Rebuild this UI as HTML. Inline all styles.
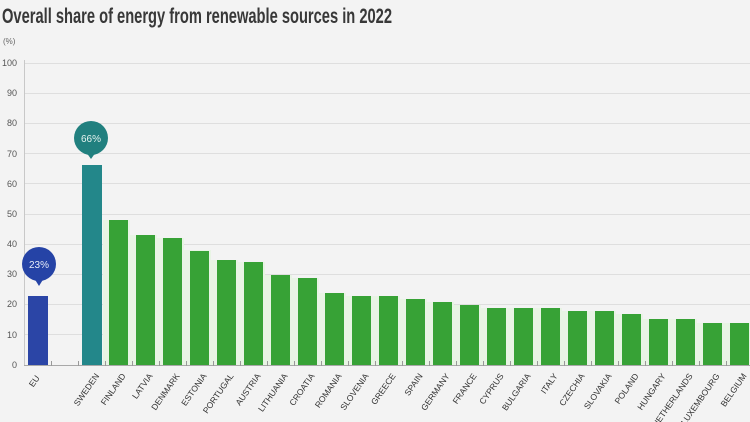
<!DOCTYPE html>
<html>
<head>
<meta charset="utf-8">
<style>
  html,body{margin:0;padding:0;background:#f3f3f3;}
  svg{display:block;}
  text{font-family:"Liberation Sans",sans-serif;}
</style>
</head>
<body>
<svg width="750" height="422" viewBox="0 0 750 422" xmlns="http://www.w3.org/2000/svg">
  <rect x="0" y="0" width="750" height="422" fill="#f3f3f3"/>
  <!-- Title -->
  <text x="2" y="23" font-size="21" font-weight="bold" fill="#383838" textLength="390" lengthAdjust="spacingAndGlyphs">Overall share of energy from renewable sources in 2022</text>
  <text x="3" y="44" font-size="8" fill="#666">(%)</text>

  <!-- gridlines -->
  <g stroke="#dedede" stroke-width="1">
    <line x1="24" y1="63.5" x2="750" y2="63.5"/>
    <line x1="24" y1="93.5" x2="750" y2="93.5"/>
    <line x1="24" y1="123.5" x2="750" y2="123.5"/>
    <line x1="24" y1="153.5" x2="750" y2="153.5"/>
    <line x1="24" y1="183.5" x2="750" y2="183.5"/>
    <line x1="24" y1="214.5" x2="750" y2="214.5"/>
    <line x1="24" y1="244.5" x2="750" y2="244.5"/>
    <line x1="24" y1="274.5" x2="750" y2="274.5"/>
    <line x1="24" y1="304.5" x2="750" y2="304.5"/>
    <line x1="24" y1="334.5" x2="750" y2="334.5"/>
  </g>
  <line x1="24.5" y1="60" x2="24.5" y2="366" stroke="#c8c8c8" stroke-width="1"/>

  <!-- y labels -->
  <g font-size="9" fill="#555" text-anchor="end">
    <text x="17" y="66">100</text>
    <text x="17" y="96">90</text>
    <text x="17" y="126">80</text>
    <text x="17" y="157">70</text>
    <text x="17" y="187">60</text>
    <text x="17" y="217">50</text>
    <text x="17" y="247">40</text>
    <text x="17" y="277">30</text>
    <text x="17" y="307">20</text>
    <text x="17" y="338">10</text>
    <text x="17" y="368">0</text>
  </g>

  <!-- pale tint between green bars -->
  <g fill="#e8f4e4">
    <rect x="103" y="220" width="27" height="145"/>
    <rect x="130" y="235" width="27" height="130"/>
    <rect x="157" y="238" width="27" height="127"/>
    <rect x="184" y="250" width="27" height="115"/>
    <rect x="211" y="260" width="27" height="105"/>
    <rect x="238" y="262" width="27" height="103"/>
    <rect x="265" y="275" width="27" height="90"/>
    <rect x="292" y="278" width="27" height="87"/>
    <rect x="319" y="293" width="27" height="72"/>
    <rect x="346" y="296" width="27" height="69"/>
    <rect x="373" y="296" width="27" height="69"/>
    <rect x="400" y="299" width="27" height="66"/>
    <rect x="427" y="302" width="27" height="63"/>
    <rect x="454" y="305" width="27" height="60"/>
    <rect x="481" y="308" width="27" height="57"/>
    <rect x="508" y="308" width="27" height="57"/>
    <rect x="535" y="308" width="27" height="57"/>
    <rect x="562" y="311" width="27" height="54"/>
    <rect x="589" y="311" width="27" height="54"/>
    <rect x="616" y="314" width="27" height="51"/>
    <rect x="643" y="319" width="27" height="46"/>
    <rect x="670" y="319" width="27" height="46"/>
    <rect x="697" y="323" width="27" height="42"/>
    <rect x="724" y="323" width="26" height="42"/>
  </g>

  <!-- bars -->
  <rect x="28" y="296" width="20" height="69" fill="#2b45a6"/>
  <rect x="82" y="165" width="20" height="200" fill="#23878a"/>
  <g fill="#37a236">
    <rect x="109" y="220" width="19" height="145"/>
    <rect x="136" y="235" width="19" height="130"/>
    <rect x="163" y="238" width="19" height="127"/>
    <rect x="190" y="251" width="19" height="114"/>
    <rect x="217" y="260" width="19" height="105"/>
    <rect x="244" y="262" width="19" height="103"/>
    <rect x="271" y="275" width="19" height="90"/>
    <rect x="298" y="278" width="19" height="87"/>
    <rect x="325" y="293" width="19" height="72"/>
    <rect x="352" y="296" width="19" height="69"/>
    <rect x="379" y="296" width="19" height="69"/>
    <rect x="406" y="299" width="19" height="66"/>
    <rect x="433" y="302" width="19" height="63"/>
    <rect x="460" y="305" width="19" height="60"/>
    <rect x="487" y="308" width="19" height="57"/>
    <rect x="514" y="308" width="19" height="57"/>
    <rect x="541" y="308" width="19" height="57"/>
    <rect x="568" y="311" width="19" height="54"/>
    <rect x="595" y="311" width="19" height="54"/>
    <rect x="622" y="314" width="19" height="51"/>
    <rect x="649" y="319" width="19" height="46"/>
    <rect x="676" y="319" width="19" height="46"/>
    <rect x="703" y="323" width="19" height="42"/>
    <rect x="730" y="323" width="19" height="42"/>
  </g>

  <!-- baseline and ticks -->
  <line x1="24" y1="365.5" x2="750" y2="365.5" stroke="#a8a8a8" stroke-width="1"/>
  <g stroke="#999" stroke-width="1">
    <line x1="51.5" y1="361" x2="51.5" y2="366"/>
    <line x1="78.5" y1="361" x2="78.5" y2="366"/>
    <line x1="105.5" y1="361" x2="105.5" y2="366"/>
    <line x1="132.5" y1="361" x2="132.5" y2="366"/>
    <line x1="159.5" y1="361" x2="159.5" y2="366"/>
    <line x1="186.5" y1="361" x2="186.5" y2="366"/>
    <line x1="213.5" y1="361" x2="213.5" y2="366"/>
    <line x1="240.5" y1="361" x2="240.5" y2="366"/>
    <line x1="267.5" y1="361" x2="267.5" y2="366"/>
    <line x1="294.5" y1="361" x2="294.5" y2="366"/>
    <line x1="321.5" y1="361" x2="321.5" y2="366"/>
    <line x1="348.5" y1="361" x2="348.5" y2="366"/>
    <line x1="375.5" y1="361" x2="375.5" y2="366"/>
    <line x1="402.5" y1="361" x2="402.5" y2="366"/>
    <line x1="429.5" y1="361" x2="429.5" y2="366"/>
    <line x1="456.5" y1="361" x2="456.5" y2="366"/>
    <line x1="483.5" y1="361" x2="483.5" y2="366"/>
    <line x1="510.5" y1="361" x2="510.5" y2="366"/>
    <line x1="537.5" y1="361" x2="537.5" y2="366"/>
    <line x1="564.5" y1="361" x2="564.5" y2="366"/>
    <line x1="591.5" y1="361" x2="591.5" y2="366"/>
    <line x1="618.5" y1="361" x2="618.5" y2="366"/>
    <line x1="645.5" y1="361" x2="645.5" y2="366"/>
    <line x1="672.5" y1="361" x2="672.5" y2="366"/>
    <line x1="699.5" y1="361" x2="699.5" y2="366"/>
    <line x1="726.5" y1="361" x2="726.5" y2="366"/>
  </g>

  <!-- bubbles -->
  <circle cx="91" cy="138" r="17" fill="#21807f"/>
  <path d="M86 152 L91 159 L96 152 Z" fill="#21807f"/>
  <text x="91" y="142" font-size="10" fill="#e6f3f0" text-anchor="middle">66%</text>

  <circle cx="39" cy="264" r="17" fill="#2543a6"/>
  <path d="M34 278 L39 286 L44 278 Z" fill="#2543a6"/>
  <text x="39" y="268" font-size="10" fill="#e6ecf8" text-anchor="middle">23%</text>

  <!-- x labels -->
  <g font-size="8.5" fill="#333" text-anchor="end">
    <text transform="translate(40,378) rotate(-55)">EU</text>
    <text transform="translate(99.5,376) rotate(-55)">SWEDEN</text>
    <text transform="translate(126,376) rotate(-55)">FINLAND</text>
    <text transform="translate(153,376) rotate(-55)">LATVIA</text>
    <text transform="translate(180,376) rotate(-55)">DENMARK</text>
    <text transform="translate(207,376) rotate(-55)">ESTONIA</text>
    <text transform="translate(234,376) rotate(-55)">PORTUGAL</text>
    <text transform="translate(261,376) rotate(-55)">AUSTRIA</text>
    <text transform="translate(288,376) rotate(-55)">LITHUANIA</text>
    <text transform="translate(315,376) rotate(-55)">CROATIA</text>
    <text transform="translate(342,376) rotate(-55)">ROMANIA</text>
    <text transform="translate(369,376) rotate(-55)">SLOVENIA</text>
    <text transform="translate(396,376) rotate(-55)">GREECE</text>
    <text transform="translate(423,376) rotate(-55)">SPAIN</text>
    <text transform="translate(450,376) rotate(-55)">GERMANY</text>
    <text transform="translate(477,376) rotate(-55)">FRANCE</text>
    <text transform="translate(504,376) rotate(-55)">CYPRUS</text>
    <text transform="translate(531,376) rotate(-55)">BULGARIA</text>
    <text transform="translate(558,376) rotate(-55)">ITALY</text>
    <text transform="translate(585,376) rotate(-55)">CZECHIA</text>
    <text transform="translate(612,376) rotate(-55)">SLOVAKIA</text>
    <text transform="translate(639,376) rotate(-55)">POLAND</text>
    <text transform="translate(666,376) rotate(-55)">HUNGARY</text>
    <text transform="translate(693,376) rotate(-55)">NETHERLANDS</text>
    <text transform="translate(720,376) rotate(-55)">LUXEMBOURG</text>
    <text transform="translate(747,376) rotate(-55)">BELGIUM</text>
  </g>
</svg>
</body>
</html>
